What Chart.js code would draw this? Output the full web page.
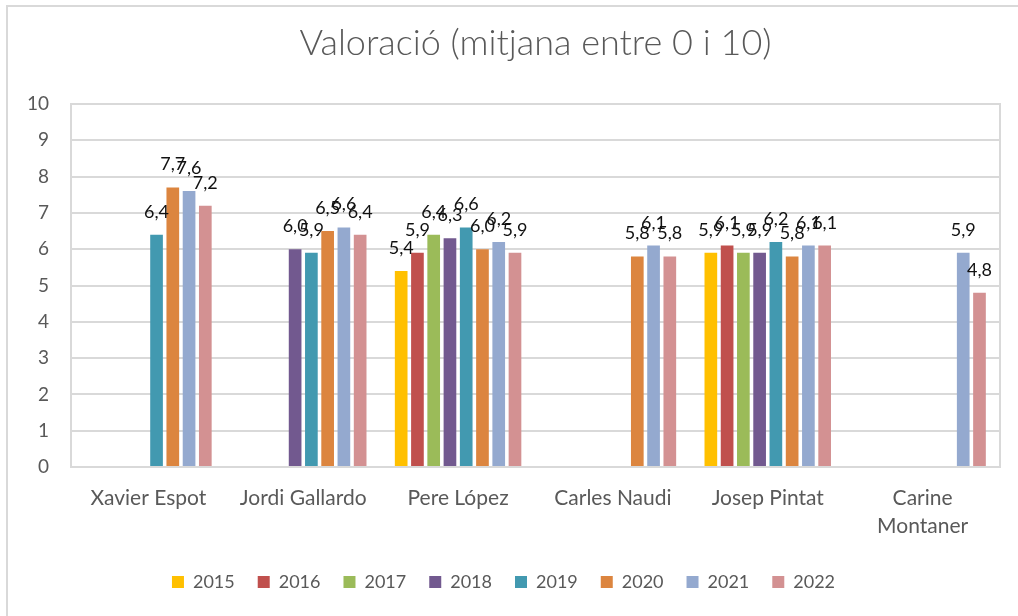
<!DOCTYPE html>
<html>
<head>
<meta charset="utf-8">
<script src="https://cdn.jsdelivr.net/npm/chart.js@4/dist/chart.umd.min.js"></script>
<style>
  html, body { margin: 0; padding: 0; background: #fff; }
  #wrap { width: 1018px; height: 616px; }
</style>
</head>
<body>
<div id="wrap"><canvas id="valChart"></canvas></div>
<script>
// Categories and series values (null = no data that year)
const candidates = ['Xavier Espot', 'Jordi Gallardo', 'Pere López', 'Carles Naudi', 'Josep Pintat', ['Carine', 'Montaner']];
const years = ['2015', '2016', '2017', '2018', '2019', '2020', '2021', '2022'];
const v2015 = [null, null, 5.4, null, 5.9, null];
const v2016 = [null, null, 5.9, null, 6.1, null];
const v2017 = [null, null, 6.4, null, 5.9, null];
const v2018 = [null, 6.0, 6.3, null, 5.9, null];
const v2019 = [6.4, 5.9, 6.6, null, 6.2, null];
const v2020 = [7.7, 6.5, 6.0, 5.8, 5.8, null];
const v2021 = [7.6, 6.6, 6.2, 6.1, 6.1, 5.9];
const v2022 = [7.2, 6.4, 5.9, 5.8, 6.1, 4.8];
const yTicks = [0, 1, 2, 3, 4, 5, 6, 7, 8, 9, 10];

const seriesValues = [v2015, v2016, v2017, v2018, v2019, v2020, v2021, v2022];
const colors = ['#FFC000', '#C0504D', '#9BBB59', '#72598F', '#4299B0', '#DC853F', '#94A9CF', '#D39192'];

const fontFamily = 'Lato, "Open Sans", sans-serif';

// Outer frame + plot area border
const framePlugin = {
    id: 'frame',
    beforeDraw(chart) {
        const ctx = chart.ctx;
        const a = chart.chartArea;
        ctx.save();
        ctx.strokeStyle = '#d9d9d9';
        ctx.lineWidth = 2;
        ctx.beginPath();
        ctx.moveTo(7, 616);
        ctx.lineTo(7, 6);
        ctx.lineTo(1018, 6);
        ctx.stroke();
        ctx.strokeRect(a.left, a.top, a.right - a.left, a.bottom - a.top);
        ctx.restore();
    }
};

// Value labels above every bar, decimal comma
const labelPlugin = {
    id: 'barLabels',
    afterDatasetsDraw(chart) {
        const ctx = chart.ctx;
        ctx.save();
        ctx.font = '18px ' + fontFamily;
        ctx.fillStyle = '#111';
        ctx.textAlign = 'center';
        ctx.textBaseline = 'alphabetic';
        chart.data.datasets.forEach((ds, i) => {
            const meta = chart.getDatasetMeta(i);
            meta.data.forEach((bar, j) => {
                const v = ds.data[j];
                if (v === null || v === undefined) return;
                ctx.fillText(v.toFixed(1).replace('.', ','), bar.x, bar.y - 17);
            });
        });
        ctx.restore();
    }
};

function createChart() {
    const ctx = document.getElementById('valChart').getContext('2d');
    new Chart(ctx, {
        type: 'bar',
        data: {
            labels: candidates,
            datasets: years.map((y, i) => ({
                label: y,
                data: seriesValues[i],
                backgroundColor: colors[i],
                borderWidth: 0,
                categoryPercentage: 0.84,
                barPercentage: 0.78
            }))
        },
        options: {
            responsive: true,
            maintainAspectRatio: false,
            animation: false,
            layout: { padding: { left: 7, right: 18, top: 22, bottom: 15 } },
            plugins: {
                title: {
                    display: true,
                    fullSize: false,
                    text: 'Valoració (mitjana entre 0 i 10)',
                    color: '#595959',
                    font: { family: fontFamily, size: 36, weight: '300' },
                    padding: { top: 0, bottom: 38.8 }
                },
                legend: {
                    position: 'bottom',
                    labels: {
                        color: '#595959',
                        font: { family: fontFamily, size: 18 },
                        boxWidth: 12,
                        boxHeight: 12,
                        padding: 23
                    }
                },
                tooltip: { enabled: false }
            },
            scales: {
                x: {
                    afterFit(scale) { scale.height = 83; },
                    grid: { display: false, drawTicks: false },
                    border: { display: false },
                    ticks: {
                        color: '#595959',
                        font: { family: fontFamily, size: 21, lineHeight: 1.333 },
                        padding: 17,
                        maxRotation: 0,
                        autoSkip: false
                    }
                },
                y: {
                    min: 0,
                    max: 10,
                    afterBuildTicks(scale) {
                        scale.ticks = yTicks.map(v => ({ value: v }));
                    },
                    afterFit(scale) { scale.width = 64; },
                    grid: { color: '#d9d9d9', lineWidth: 2, drawTicks: false },
                    border: { display: false },
                    ticks: {
                        color: '#595959',
                        font: { family: fontFamily, size: 19 },
                        padding: 22
                    }
                }
            }
        },
        plugins: [framePlugin, labelPlugin]
    });
}

window.onload = createChart;
</script>
</body>
</html>
